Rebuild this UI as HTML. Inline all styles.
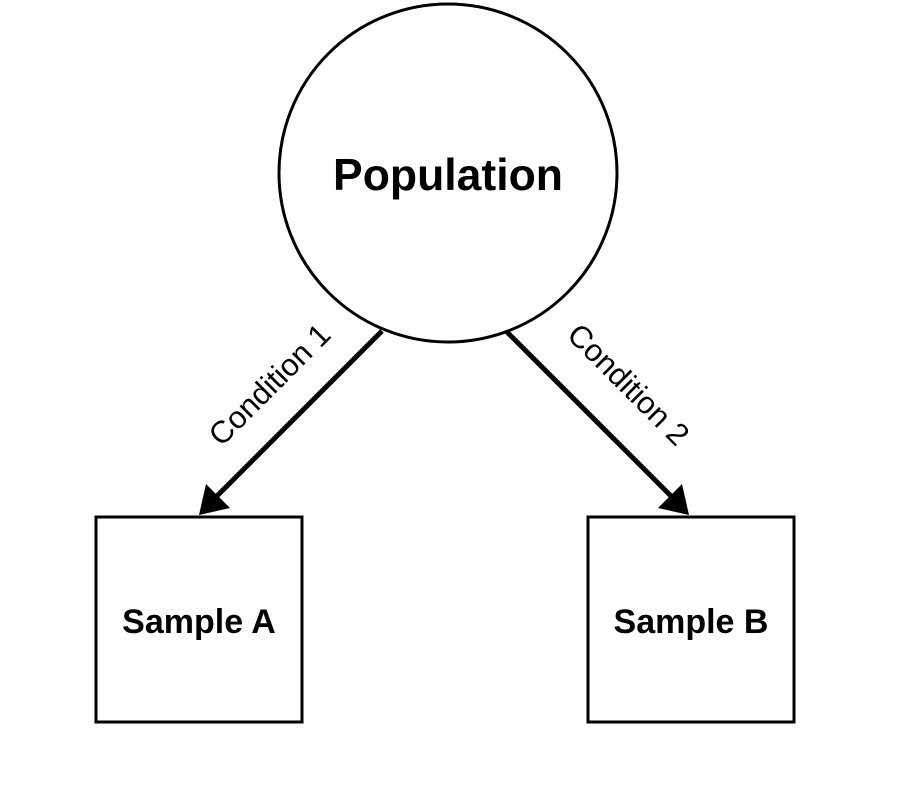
<!DOCTYPE html>
<html><head><style>html,body{margin:0;padding:0;background:#fff;}</style></head>
<body>
<svg width="908" height="784" viewBox="0 0 908 784" xmlns="http://www.w3.org/2000/svg">
<rect width="908" height="784" fill="#fff"/>
<circle cx="448" cy="173" r="169" fill="#fff" stroke="#000" stroke-width="3"/>
<text x="448" y="190" text-anchor="middle" font-family="Liberation Sans, sans-serif" font-weight="bold" font-size="44.5">Population</text>
<rect x="96" y="517" width="206" height="205" fill="#fff" stroke="#000" stroke-width="3"/>
<rect x="588" y="517" width="206" height="205" fill="#fff" stroke="#000" stroke-width="3"/>
<text x="199" y="633" text-anchor="middle" font-family="Liberation Sans, sans-serif" font-weight="bold" font-size="34">Sample A</text>
<text x="691" y="633" text-anchor="middle" font-family="Liberation Sans, sans-serif" font-weight="bold" font-size="34">Sample B</text>
<line x1="382" y1="331" x2="214" y2="499" stroke="#000" stroke-width="5"/>
<polygon points="199,515 206,484 230,508" fill="#000"/>
<line x1="506" y1="331" x2="674" y2="499" stroke="#000" stroke-width="5"/>
<polygon points="689,515 682,484 658,508" fill="#000"/>
<text transform="translate(277,392) rotate(-45)" text-anchor="middle" font-family="Liberation Sans, sans-serif" font-size="31">Condition 1</text>
<text transform="translate(621,392) rotate(45)" text-anchor="middle" font-family="Liberation Sans, sans-serif" font-size="31">Condition 2</text>
</svg>
</body></html>
